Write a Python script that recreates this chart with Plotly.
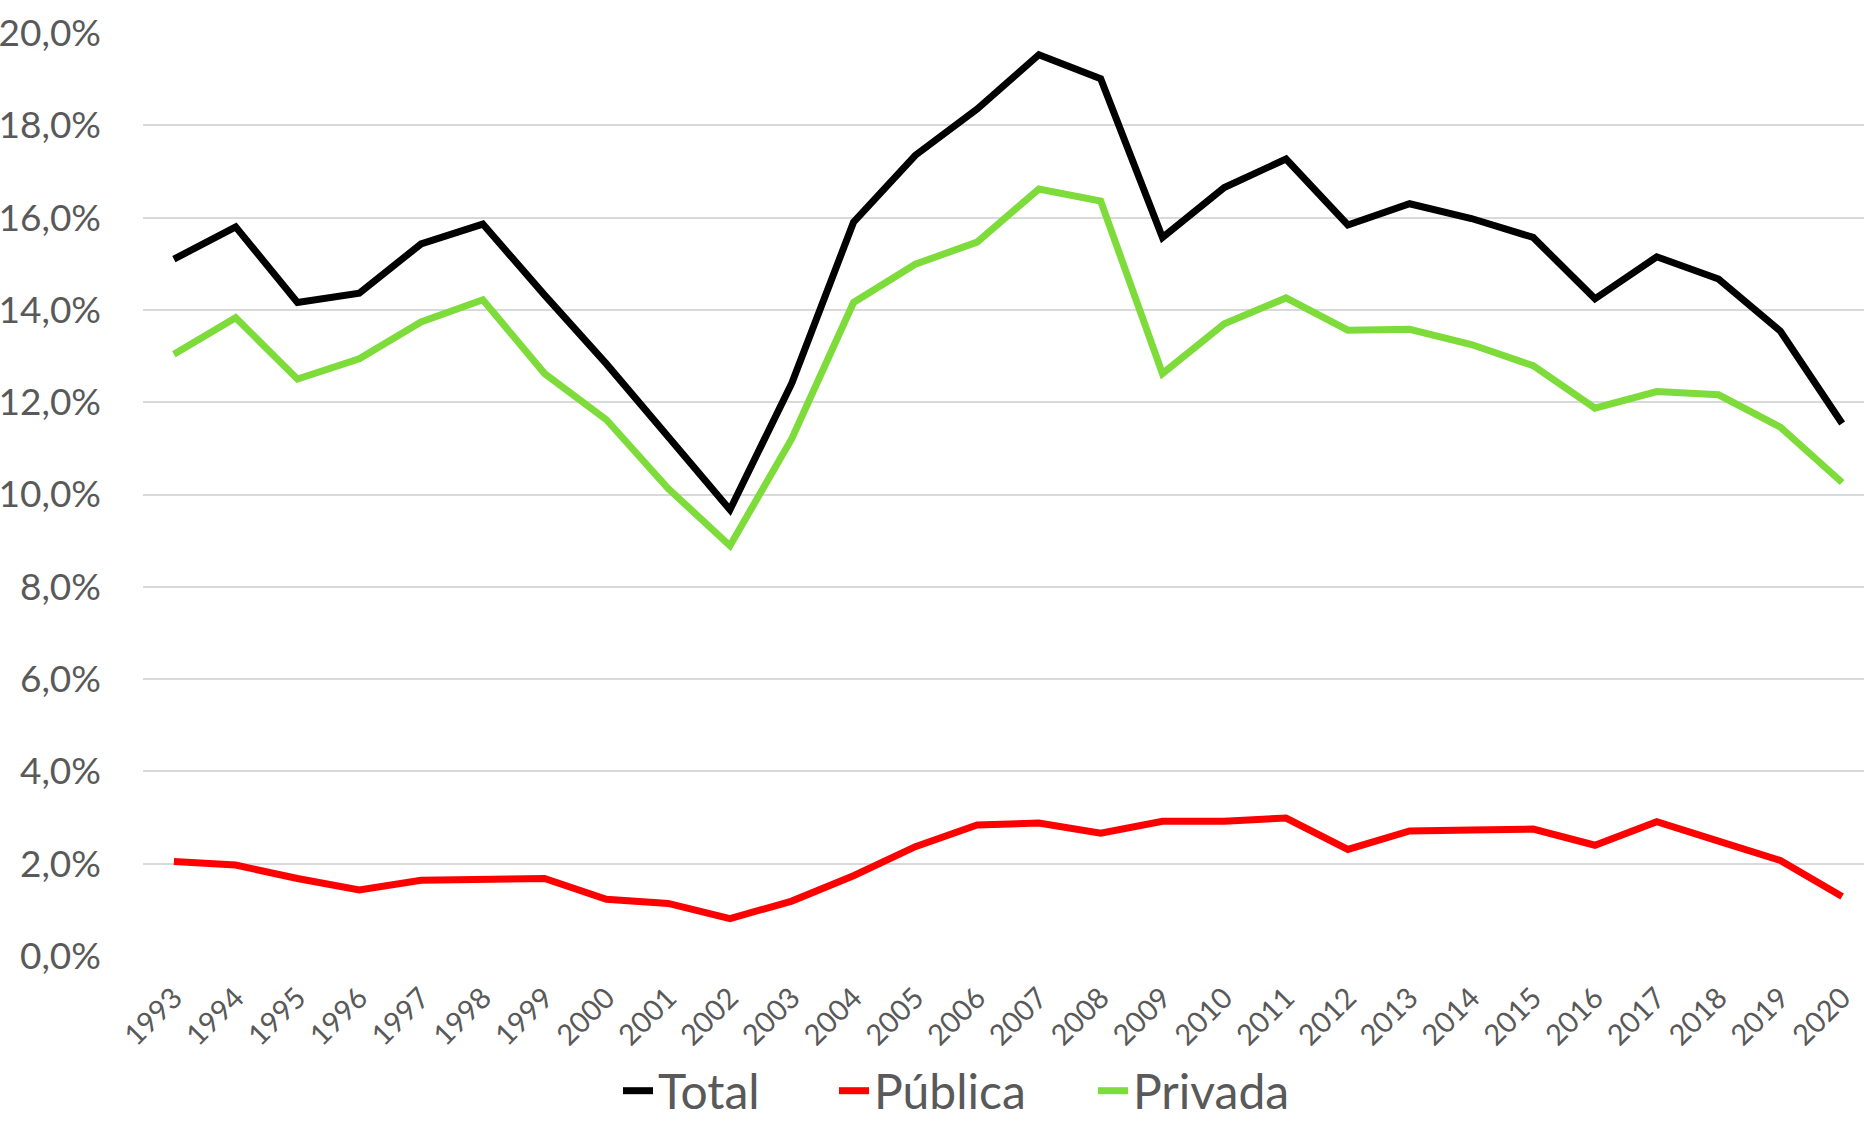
import plotly.graph_objects as go

years = [str(y) for y in range(1993, 2021)]

total = [15.10, 15.80, 14.16, 14.36, 15.43, 15.86, 14.32, 12.83, 11.25, 9.67,
         12.41, 15.90, 17.35, 18.35, 19.53, 19.01, 15.57, 16.65, 17.27, 15.84,
         16.30, 15.98, 15.57, 14.24, 15.15, 14.67, 13.54, 11.54]

publica = [2.05, 1.97, 1.68, 1.43, 1.64, 1.65, 1.68, 1.23, 1.14, 0.81,
           1.19, 1.74, 2.37, 2.84, 2.88, 2.66, 2.92, 2.92, 2.99, 2.31,
           2.71, 2.73, 2.75, 2.40, 2.91, 2.49, 2.07, 1.29]

privada = [13.04, 13.83, 12.50, 12.94, 13.74, 14.22, 12.62, 11.62, 10.13, 8.89,
           11.21, 14.16, 14.99, 15.47, 16.62, 16.36, 12.62, 13.70, 14.26, 13.56,
           13.58, 13.25, 12.79, 11.87, 12.23, 12.16, 11.46, 10.26]

series = [("Total", total, "#000000"),
          ("Pública", publica, "#FF0000"),
          ("Privada", privada, "#7DDC3A")]

FONT = "Lato, 'Open Sans', sans-serif"
GREY = "#595959"

W, H = 1864, 1124
legend_names = ["legend", "legend2", "legend3"]
legend_x = [618, 834, 1093]  # px, left edge of each legend entry

fig = go.Figure()
for (name, vals, color), lg in zip(series, legend_names):
    fig.add_trace(go.Scatter(x=years, y=vals, name=name, mode="lines",
                             line=dict(color=color, width=7), legend=lg))

legend_common = dict(orientation="h", xref="container", yref="container",
                     xanchor="left", yanchor="middle", y=1 - 1091 / H,
                     font=dict(size=48, color=GREY, family=FONT),
                     bgcolor="rgba(0,0,0,0)", borderwidth=0)

layout_legends = {lg: dict(legend_common, x=lx / W) for lg, lx in zip(legend_names, legend_x)}

fig.update_layout(
    width=W, height=H,
    margin=dict(l=143, r=0, t=33, b=168, autoexpand=False),
    paper_bgcolor="white", plot_bgcolor="white",
    separators=", ",
    font=dict(family=FONT, color=GREY),
    showlegend=True,
    **layout_legends,
)
fig.update_xaxes(type="category", range=[-0.5, 27.354], tickangle=-45,
                 showgrid=False, zeroline=False, showline=False, ticks="",
                 tickfont=dict(size=29, color=GREY, family=FONT),
                 ticklabelstandoff=18)
fig.update_yaxes(range=[0, 20], dtick=2, tick0=0, tickformat=".1f", ticksuffix="%",
                 showgrid=True, gridcolor="#D9D9D9", gridwidth=2,
                 zeroline=False, showline=False, ticks="",
                 tickfont=dict(size=37, color=GREY, family=FONT),
                 ticklabelstandoff=41)

fig.write_html("out.html", config={"displayModeBar": False},
               post_script="document.body.style.margin='0';document.body.style.overflow='hidden';")
